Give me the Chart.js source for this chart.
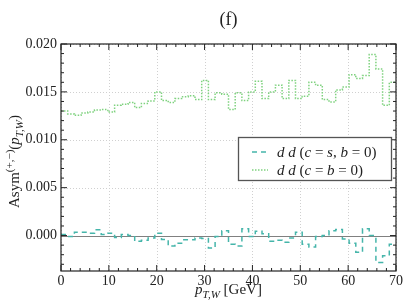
<!DOCTYPE html>
<html>
<head>
<meta charset="utf-8">
<script src="https://cdn.jsdelivr.net/npm/chart.js@4.4.1/dist/chart.umd.min.js"></script>
<style>
  html, body { margin: 0; padding: 0; background: #fff; }
</style>
</head>
<body>
<canvas id="asymChart" width="405" height="304"></canvas>
<script>
// bin edges in p_T,W [GeV] (50 bins of 1.4 GeV)
var binEdges = [0, 1.4, 2.8, 4.2, 5.6, 7, 8.4, 9.8, 11.2, 12.6, 14, 15.4, 16.8, 18.2, 19.6,
    21, 22.4, 23.8, 25.2, 26.6, 28, 29.4, 30.8, 32.2, 33.6, 35, 36.4, 37.8, 39.2, 40.6,
    42, 43.4, 44.8, 46.2, 47.6, 49, 50.4, 51.8, 53.2, 54.6, 56, 57.4, 58.8, 60.2, 61.6,
    63, 64.4, 65.8, 67.2, 68.6, 70];

// dd (c = s, b = 0)  -- dashed
var asymCs = [0.0001, -0.0001, 0.00035, 0.00035, 0.00025, 0.0006, 0.0001, 0.00025, -0.0002, 0.0001,
    0.0, -0.0006, -0.0005, -0.00025, 0.00025, -0.0004, -0.0011, -0.0008, -0.00045, -0.00045,
    -0.00025, -0.0003, -0.0013, -0.0001, 0.0005, -0.0009, -0.0011, 0.0007, -0.0001, 0.00045,
    0.0002, -0.0006, -0.0005, -0.0007, -0.00025, 0.00035, -0.0009, -0.0012, -0.0001, 0.0,
    0.0005, 0.00063, -0.00035, -0.0008, -0.00175, 0.0007, 0.0, -0.0028, -0.0021, -0.0009];

// dd (c = b = 0)  -- dotted
var asymCb = [0.0130, 0.0127, 0.01255, 0.0128, 0.0129, 0.0131, 0.01315, 0.0129, 0.0136, 0.0137,
    0.0139, 0.01336, 0.0138, 0.01405, 0.0150, 0.0141, 0.0139, 0.0143, 0.0145, 0.0146,
    0.0142, 0.0162, 0.0142, 0.0149, 0.01475, 0.01315, 0.0149, 0.0141, 0.0150, 0.0161,
    0.0143, 0.0150, 0.0157, 0.0143, 0.0162, 0.0143, 0.01455, 0.0160, 0.0157, 0.0142,
    0.01395, 0.0152, 0.0155, 0.0168, 0.0164, 0.0167, 0.0189, 0.0174, 0.0136, 0.0160];

var xTicks = [0, 10, 20, 30, 40, 50, 60, 70];
var yTicks = [0.000, 0.005, 0.010, 0.015, 0.020];

var serif = "'Liberation Serif', 'DejaVu Serif', serif";
var colorCs = '#45b5aa';
var colorCb = '#7fd27f';

// turn a histogram into step points: one point per bin start plus the closing edge
function steps(values) {
    var pts = [];
    for (var i = 0; i < values.length; i++) {
        pts.push({ x: binEdges[i], y: values[i] });
    }
    pts.push({ x: binEdges[values.length], y: values[values.length - 1] });
    return pts;
}

// draw text made of parts: [text, style]; style n = normal, i = italic, sup/sub (+i)
function fontFor(style, size) {
    var small = style.indexOf('sup') === 0 || style.indexOf('sub') === 0;
    var s = small ? Math.round(size * 0.7) : size;
    var it = (style === 'i' || style === 'subi' || style === 'supi') ? 'italic ' : '';
    return it + s + 'px ' + serif;
}
function richWidth(ctx, parts, size) {
    var w = 0;
    parts.forEach(function (p) {
        ctx.font = fontFor(p[1], size);
        w += ctx.measureText(p[0]).width;
    });
    return w;
}
function drawRich(ctx, parts, x, y, size) {
    var w = richWidth(ctx, parts, size);
    var cx = x - w / 2;
    ctx.textBaseline = 'alphabetic';
    ctx.textAlign = 'left';
    parts.forEach(function (p) {
        ctx.font = fontFor(p[1], size);
        var dy = 0;
        if (p[1].indexOf('sup') === 0) dy = -size * 0.42;
        if (p[1].indexOf('sub') === 0) dy = size * 0.25;
        ctx.fillText(p[0], cx, y + dy);
        cx += ctx.measureText(p[0]).width;
    });
}

var decorPlugin = {
    id: 'decor',
    beforeDatasetsDraw: function (chart) {
        var ctx = chart.ctx, a = chart.chartArea;
        var xs = chart.scales.x, ys = chart.scales.y;
        ctx.save();
        // dotted grid
        ctx.strokeStyle = '#d0d0d0';
        ctx.lineWidth = 1;
        ctx.setLineDash([1, 2]);
        xTicks.forEach(function (v) {
            var px = Math.round(xs.getPixelForValue(v)) + 0.5;
            ctx.beginPath(); ctx.moveTo(px, a.top); ctx.lineTo(px, a.bottom); ctx.stroke();
        });
        yTicks.forEach(function (v) {
            if (v === 0) return;
            var py = Math.round(ys.getPixelForValue(v)) + 0.5;
            ctx.beginPath(); ctx.moveTo(a.left, py); ctx.lineTo(a.right, py); ctx.stroke();
        });
        // zero line
        ctx.setLineDash([]);
        ctx.strokeStyle = '#808080';
        var pz = Math.round(ys.getPixelForValue(0)) + 0.5;
        ctx.beginPath(); ctx.moveTo(a.left, pz); ctx.lineTo(a.right, pz); ctx.stroke();
        ctx.restore();
    },
    afterDraw: function (chart) {
        var ctx = chart.ctx, a = chart.chartArea;
        var xs = chart.scales.x, ys = chart.scales.y;
        ctx.save();
        // frame
        ctx.strokeStyle = '#222';
        ctx.lineWidth = 1.2;
        ctx.strokeRect(a.left, a.top, a.right - a.left, a.bottom - a.top);
        // inward ticks, all four sides
        ctx.lineWidth = 1;
        ctx.beginPath();
        for (var xv = 0; xv <= 70; xv += 2) {
            var px = xs.getPixelForValue(xv);
            var len = (xv % 10 === 0) ? 6 : 3;
            ctx.moveTo(px, a.bottom); ctx.lineTo(px, a.bottom - len);
            ctx.moveTo(px, a.top); ctx.lineTo(px, a.top + len);
        }
        for (var k = -3; k <= 20; k++) {
            var py = ys.getPixelForValue(k / 1000);
            var l2 = (k % 5 === 0) ? 6 : 3;
            ctx.moveTo(a.left, py); ctx.lineTo(a.left + l2, py);
            ctx.moveTo(a.right, py); ctx.lineTo(a.right - l2, py);
        }
        ctx.stroke();

        // title
        ctx.fillStyle = '#222';
        drawRich(ctx, [['(f)', 'n']], (a.left + a.right) / 2, 25, 18);

        // x label
        drawRich(ctx, [['p', 'i'], ['T,W', 'subi'], [' [GeV]', 'n']], (a.left + a.right) / 2, 294, 15);

        // y label (rotated)
        ctx.save();
        ctx.translate(19, (a.top + a.bottom) / 2 + 4);
        ctx.rotate(-Math.PI / 2);
        drawRich(ctx, [['Asym', 'n'], ['(+,\u2212)', 'sup'], ['(', 'n'], ['p', 'i'], ['T,W', 'subi'], [')', 'n']], 0, 0, 15);
        ctx.restore();

        // legend box
        var bx = 238, by = 137, bw = 153, bh = 43;
        ctx.fillStyle = '#fff';
        ctx.fillRect(bx, by, bw, bh);
        ctx.strokeStyle = '#555';
        ctx.lineWidth = 1.3;
        ctx.strokeRect(bx + 0.5, by + 0.5, bw, bh);
        var entries = [
            { color: colorCs, dash: [5, 4], y: 152,
              parts: [['d', 'i'], [' ', 'n'], ['d', 'i'], [' (', 'n'], ['c', 'i'], [' = ', 'n'], ['s', 'i'], [', ', 'n'], ['b', 'i'], [' = 0)', 'n']] },
            { color: colorCb, dash: [1.5, 1.5], y: 170,
              parts: [['d', 'i'], [' ', 'n'], ['d', 'i'], [' (', 'n'], ['c', 'i'], [' = ', 'n'], ['b', 'i'], [' = 0)', 'n']] }
        ];
        entries.forEach(function (e) {
            ctx.strokeStyle = e.color;
            ctx.lineWidth = 1.5;
            ctx.setLineDash(e.dash);
            ctx.beginPath(); ctx.moveTo(252, e.y); ctx.lineTo(268, e.y); ctx.stroke();
            ctx.setLineDash([]);
            ctx.fillStyle = '#222';
            var w = richWidth(ctx, e.parts, 15);
            drawRich(ctx, e.parts, 277 + w / 2, e.y + 5, 15);
        });
        ctx.restore();
    }
};

var chart = new Chart(document.getElementById('asymChart').getContext('2d'), {
    type: 'line',
    data: {
        datasets: [{
            label: 'dd (c = s, b = 0)',
            data: steps(asymCs),
            borderColor: colorCs,
            borderWidth: 1.5,
            borderDash: [5, 4],
            stepped: 'before',
            pointRadius: 0,
            fill: false
        }, {
            label: 'dd (c = b = 0)',
            data: steps(asymCb),
            borderColor: colorCb,
            borderWidth: 1.5,
            borderDash: [1.5, 1.5],
            stepped: 'before',
            pointRadius: 0,
            fill: false
        }]
    },
    options: {
        responsive: false,
        animation: false,
        layout: { padding: { top: 44, right: 8, left: 0, bottom: 0 } },
        plugins: {
            legend: { display: false },
            tooltip: { enabled: false }
        },
        scales: {
            x: {
                type: 'linear',
                min: 0, max: 70,
                afterFit: function (s) { s.height = 33; },
                afterBuildTicks: function (s) { s.ticks = xTicks.map(function (v) { return { value: v }; }); },
                ticks: { font: { family: serif, size: 14 }, color: '#222', padding: 2, maxRotation: 0 },
                grid: { display: false, drawTicks: false, tickLength: 0 },
                border: { display: false }
            },
            y: {
                type: 'linear',
                min: -0.0037, max: 0.020,
                afterFit: function (s) { s.width = 61; },
                afterBuildTicks: function (s) { s.ticks = yTicks.map(function (v) { return { value: v }; }); },
                ticks: {
                    font: { family: serif, size: 14 }, color: '#222', padding: 4,
                    callback: function (v) { return v.toFixed(3); }
                },
                grid: { display: false, drawTicks: false, tickLength: 0 },
                border: { display: false }
            }
        }
    },
    plugins: [decorPlugin]
});
</script>
</body>
</html>
